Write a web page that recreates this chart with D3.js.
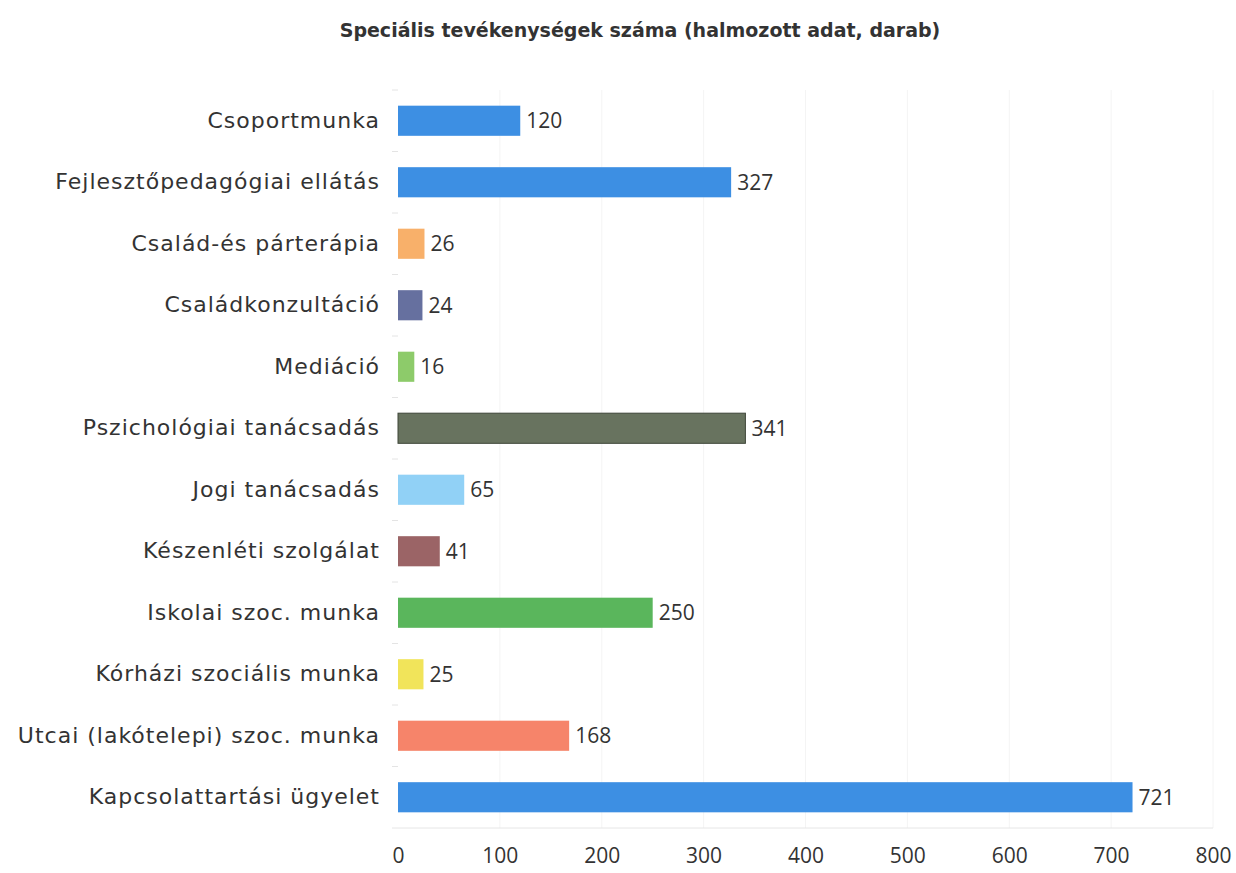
<!DOCTYPE html>
<html>
<head>
<meta charset="utf-8">
<script src="https://cdn.jsdelivr.net/npm/d3@7"></script>
<style>
  body { margin: 0; background: #fff; }
  svg { display: block; }
  .cat text { font-family: 'DejaVu Sans', sans-serif; font-size: 22px; fill: #333; letter-spacing: 1px; }
  .xaxis text { font-family: 'Open Sans', sans-serif; font-size: 21px; fill: #333; }
  .val { font-family: 'Open Sans', sans-serif; font-size: 21px; fill: #333; }
  .title { font-family: 'DejaVu Sans', sans-serif; font-size: 19px; font-weight: bold; fill: #333; }
</style>
</head>
<body>
<svg id="chart" width="1236" height="873"></svg>
<script>
'use strict'

const title = 'Speciális tevékenységek száma (halmozott adat, darab)'

const categories = [
  'Csoportmunka',
  'Fejlesztőpedagógiai ellátás',
  'Család-és párterápia',
  'Családkonzultáció',
  'Mediáció',
  'Pszichológiai tanácsadás',
  'Jogi tanácsadás',
  'Készenléti szolgálat',
  'Iskolai szoc. munka',
  'Kórházi szociális munka',
  'Utcai (lakótelepi) szoc. munka',
  'Kapcsolattartási ügyelet'
]

const values = [120, 327, 26, 24, 16, 341, 65, 41, 250, 25, 168, 721]

const barColors = [
  '#3d8fe3', '#3d8fe3', '#f8b06a', '#66709f', '#8dcb6a', '#68735f',
  '#91d1f6', '#9b6466', '#5ab65c', '#f1e45a', '#f6846a', '#3d8fe3'
]

const xTicks = [0, 100, 200, 300, 400, 500, 600, 700, 800]

const svg = d3.select('#chart')
const margin = { top: 90, right: 22, bottom: 45, left: 398 }
const width = 1236 - margin.left - margin.right
const height = 873 - margin.top - margin.bottom

svg.append('text')
  .attr('class', 'title')
  .attr('x', 640)
  .attr('y', 37)
  .attr('text-anchor', 'middle')
  .text(title)

const g = svg.append('g')
  .attr('transform', `translate(${margin.left},${margin.top})`)

const x = d3.scaleLinear().domain([0, 800]).range([0, 815])
const y = d3.scaleBand().domain(categories).range([0, height]).paddingInner(0.51).paddingOuter(0.255)

// faint vertical gridlines
g.append('g')
  .selectAll('line')
  .data(xTicks.slice(1))
  .enter().append('line')
    .attr('x1', (d) => x(d))
    .attr('x2', (d) => x(d))
    .attr('y1', 0)
    .attr('y2', height)
    .attr('stroke', '#f4f4f4')
    .attr('stroke-width', 1)

// bottom baseline
g.append('line')
  .attr('x1', -6)
  .attr('x2', x(800))
  .attr('y1', height)
  .attr('y2', height)
  .attr('stroke', '#e6e6e6')

// category tick marks at band edges
const step = y.step()
g.append('g')
  .selectAll('line')
  .data(d3.range(categories.length))
  .enter().append('line')
    .attr('x1', -6)
    .attr('x2', 0)
    .attr('y1', (i) => i * step)
    .attr('y2', (i) => i * step)
    .attr('stroke', '#e4e4e4')

const yAxis = g.append('g')
  .attr('class', 'cat')
  .call(d3.axisLeft(y).tickSize(0).tickPadding(18))
yAxis.select('.domain').remove()

const xAxis = g.append('g')
  .attr('class', 'xaxis')
  .attr('transform', `translate(0,${height})`)
  .call(d3.axisBottom(x).tickValues(xTicks).tickSize(0).tickPadding(20))
xAxis.select('.domain').remove()

g.append('g')
  .selectAll('rect')
  .data(values)
  .enter().append('rect')
    .attr('x', 0)
    .attr('y', (d, i) => y(categories[i]))
    .attr('width', (d) => x(d))
    .attr('height', y.bandwidth())
    .attr('fill', (d, i) => barColors[i])
    .attr('stroke', (d, i) => i === 5 ? '#3e4639' : 'none')
    .attr('stroke-width', 1)

g.append('g')
  .selectAll('text')
  .data(values)
  .enter().append('text')
    .attr('class', 'val')
    .attr('x', (d) => x(d) + 6)
    .attr('y', (d, i) => y(categories[i]) + y.bandwidth() / 2)
    .attr('dy', '0.35em')
    .text((d) => d)
</script>
</body>
</html>
